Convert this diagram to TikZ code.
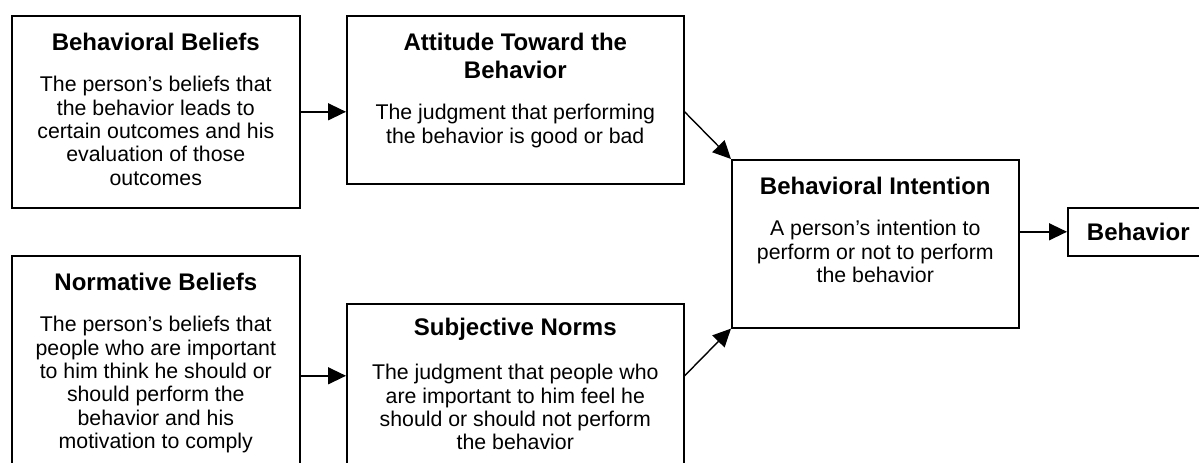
\documentclass[tikz,border=0pt]{standalone}
\usepackage{fontspec}
\setmainfont{Liberation Sans}
\usetikzlibrary{positioning,arrows.meta}
\begin{document}
\begin{tikzpicture}[x=1pt, y=-1pt,
  box/.style = {draw, line width=1.6pt, inner sep=0pt},
  head/.style = {inner sep=0pt, align=center, font=\fontsize{24}{28}\selectfont\bfseries},
  txt/.style = {inner sep=0pt, align=center, font=\fontsize{21.3}{23.4}\selectfont},
  link/.style = {-{Triangle[length=18pt,width=17pt]}, line width=1.4pt}]
\useasboundingbox (0,0) rectangle (1199,463);
\clip (0,0) rectangle (1199,463);
% boxes
\node[box, minimum width=288pt, minimum height=192pt, anchor=north west] (bb) at (11,15) {};
\node[box, minimum width=288pt, minimum height=240pt, anchor=north west] (nb) at (11,255) {};
\node[box, minimum width=337pt, minimum height=168pt, anchor=north west] (at) at (346,15) {};
\node[box, minimum width=337pt, minimum height=200pt, anchor=north west] (sn) at (346,303) {};
\node[box, minimum width=287pt, minimum height=168pt, anchor=north west] (bi) at (731,159) {};
\node[box, head, minimum width=141pt, minimum height=48pt, anchor=north west] (be) at (1067,207) {Behavior};
% texts
\node[head, below=18pt of bb.north] (bbh) {Behavioral Beliefs};
\node[txt, below=61pt of bb.north] (bbt) {The person’s beliefs that\\the behavior leads to\\certain outcomes and his\\evaluation of those\\outcomes};
\node[head, below=18pt of nb.north] (nbh) {Normative Beliefs};
\node[txt, below=61pt of nb.north] (nbt) {The person’s beliefs that\\people who are important\\to him think he should or\\should perform the\\behavior and his\\motivation to comply};
\node[head, below=18pt of at.north] (ath) {Attitude Toward the\\Behavior};
\node[txt, below=89pt of at.north] (att) {The judgment that performing\\the behavior is good or bad};
\node[head, below=15pt of sn.north] (snh) {Subjective Norms};
\node[txt, below=61pt of sn.north] (snt) {The judgment that people who\\are important to him feel he\\should or should not perform\\the behavior};
\node[head, below=18pt of bi.north] (bih) {Behavioral Intention};
\node[txt, below=61pt of bi.north] (bit) {A person’s intention to\\perform or not to perform\\the behavior};
% arrows
\draw[link] (bb.east) -- (bb.east -| at.west);
\draw[link] (nb.east) -- (nb.east -| sn.west);
\draw[link] (at.east |- bb.east) -- (bi.north west);
\draw[link] (sn.east |- nb.east) -- (bi.south west);
\draw[link] (bi.east |- be.west) -- (be.west);
\end{tikzpicture}
\end{document}
